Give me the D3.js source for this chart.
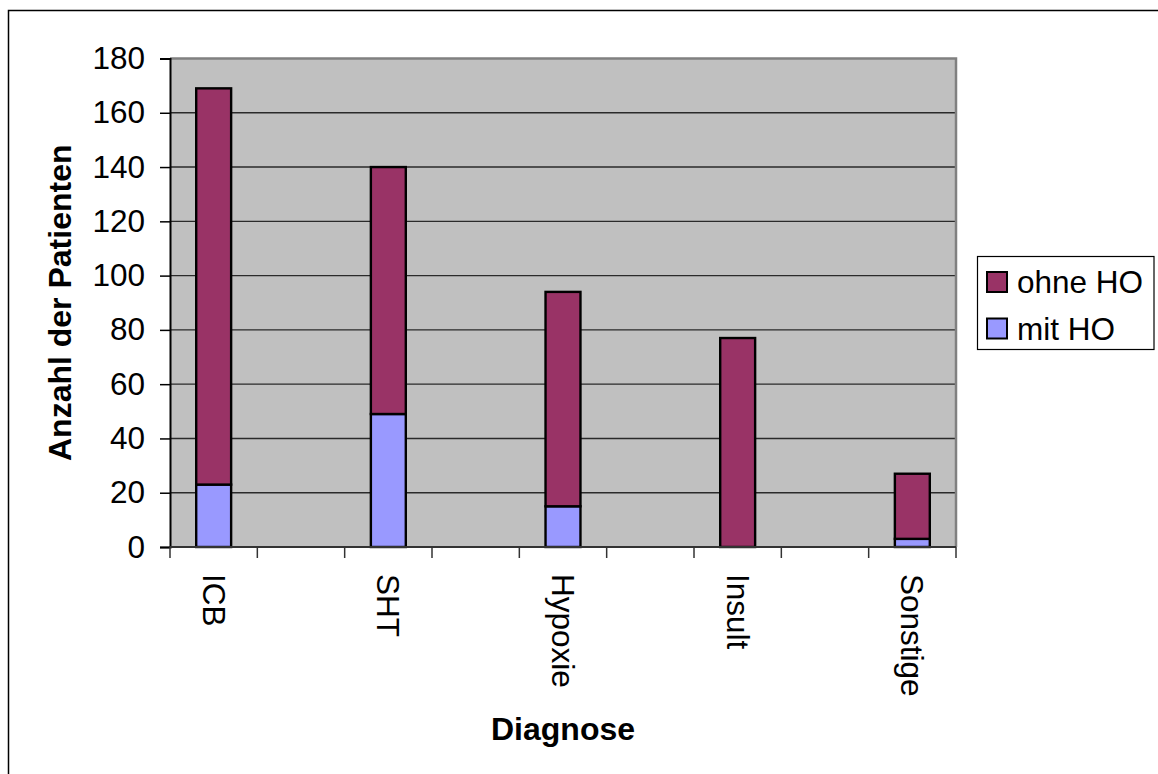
<!DOCTYPE html>
<html>
<head>
<meta charset="utf-8">
<script src="https://cdn.jsdelivr.net/npm/d3@7"></script>
<style>
  html, body { margin: 0; padding: 0; background: #fff; }
  svg { display: block; font-family: "Liberation Sans", Arial, sans-serif; }
</style>
</head>
<body>
<svg id="chart" width="1158" height="774"></svg>
<script>
// Patienten je Diagnose, aufgeteilt nach HO-Befund
const categories = ["ICB", "SHT", "Hypoxie", "Insult", "Sonstige"];
const mitHO   = [23, 49, 15, 0, 3];
const ohneHO  = [146, 91, 79, 77, 24];   // Gesamt: 169, 140, 94, 77, 27
const seriesNames = ["mit HO", "ohne HO"];
const yTicks = [0, 20, 40, 60, 80, 100, 120, 140, 160, 180];

const colors = { "mit HO": "#9999FF", "ohne HO": "#993366" };

const svg = d3.select("#chart");
const W = 1158, H = 774;
const plot = { left: 170, right: 956, top: 58.5, bottom: 547 };
const labelSize = 31.5;
const titleSize = 32;

// outer chart frame (runs off the right and bottom edge)
svg.append("rect")
  .attr("x", 8.5).attr("y", 10.5)
  .attr("width", W + 20).attr("height", H + 20)
  .attr("fill", "#fff").attr("stroke", "#000").attr("stroke-width", 1.5);

const x = d3.scaleBand()
  .domain(categories)
  .range([plot.left, plot.right])
  .paddingInner(0.8)
  .paddingOuter(0.15)
  .align(0.5);

const y = d3.scaleLinear()
  .domain([0, 180])
  .range([plot.bottom, plot.top]);

// plot area background
svg.append("rect")
  .attr("x", plot.left).attr("y", plot.top)
  .attr("width", plot.right - plot.left)
  .attr("height", plot.bottom - plot.top)
  .attr("fill", "#C0C0C0");

// horizontal gridlines
svg.append("g")
  .selectAll("line")
  .data(yTicks.filter(d => d > 0 && d < 180))
  .join("line")
  .attr("x1", plot.left).attr("x2", plot.right)
  .attr("y1", d => y(d)).attr("y2", d => y(d))
  .attr("stroke", "#2a2a2a").attr("stroke-width", 1.4);

// plot border (gray) on top and right
svg.append("path")
  .attr("d", `M${plot.left},${plot.top}H${plot.right}V${plot.bottom}`)
  .attr("fill", "none").attr("stroke", "#808080").attr("stroke-width", 2.5);

// stacked bars
const stacked = d3.stack()
  .keys(seriesNames)
  .value((d, key) => d[key])(
    categories.map((c, i) => ({ cat: c, "mit HO": mitHO[i], "ohne HO": ohneHO[i] }))
  );

svg.append("g")
  .selectAll("g")
  .data(stacked)
  .join("g")
  .attr("fill", d => colors[d.key])
  .selectAll("rect")
  .data(d => d.filter(s => s[1] > s[0]))
  .join("rect")
  .attr("x", d => x(d.data.cat))
  .attr("width", x.bandwidth())
  .attr("y", d => y(d[1]))
  .attr("height", d => y(d[0]) - y(d[1]))
  .attr("stroke", "#000")
  .attr("stroke-width", 2.4);

// y axis
const yAxis = d3.axisLeft(y)
  .tickValues(yTicks)
  .tickSize(10)
  .tickPadding(15)
  .tickFormat(d3.format("d"));

const gy = svg.append("g")
  .attr("transform", `translate(${plot.left},0)`)
  .call(yAxis);
gy.select(".domain").attr("stroke", "#000").attr("stroke-width", 2);
gy.selectAll(".tick line").attr("stroke", "#000").attr("stroke-width", 1.5);
gy.selectAll(".tick text")
  .attr("font-size", labelSize)
  .attr("font-family", "'Liberation Sans', Arial, sans-serif")
  .attr("fill", "#000");

// x axis: baseline, boundary ticks between slots, rotated category labels
const half = x.step() / 2;
const boundaries = d3.range(0, 2 * categories.length).map(i => plot.left + i * half);

svg.append("line")
  .attr("x1", plot.left).attr("x2", plot.right)
  .attr("y1", plot.bottom).attr("y2", plot.bottom)
  .attr("stroke", "#333").attr("stroke-width", 2);

svg.append("g")
  .selectAll("line")
  .data(boundaries)
  .join("line")
  .attr("x1", d => d).attr("x2", d => d)
  .attr("y1", plot.bottom).attr("y2", plot.bottom + 11)
  .attr("stroke", "#333").attr("stroke-width", 1.5);

svg.append("g")
  .selectAll("text")
  .data(categories)
  .join("text")
  .attr("transform", d => `translate(${x(d) + x.bandwidth() / 2},${plot.bottom + 27}) rotate(90)`)
  .attr("dy", "0.35em")
  .attr("text-anchor", "start")
  .attr("font-size", labelSize)
  .attr("fill", "#000")
  .text(d => d);

// axis titles
svg.append("text")
  .attr("x", (plot.left + plot.right) / 2)
  .attr("y", 740)
  .attr("text-anchor", "middle")
  .attr("font-size", titleSize)
  .attr("font-weight", "bold")
  .text("Diagnose");

svg.append("text")
  .attr("transform", `translate(71,${(plot.top + plot.bottom) / 2}) rotate(-90)`)
  .attr("text-anchor", "middle")
  .attr("font-size", titleSize)
  .attr("font-weight", "bold")
  .text("Anzahl der Patienten");

// legend
const legend = svg.append("g");
legend.append("rect")
  .attr("x", 977.5).attr("y", 256.5)
  .attr("width", 176.5).attr("height", 93)
  .attr("fill", "#fff").attr("stroke", "#000").attr("stroke-width", 1.2);

const legendItems = ["ohne HO", "mit HO"];
const li = legend.selectAll("g.item")
  .data(legendItems)
  .join("g")
  .attr("class", "item")
  .attr("transform", (d, i) => `translate(987,${272 + i * 46.5})`);

li.append("rect")
  .attr("width", 20).attr("height", 20)
  .attr("fill", d => colors[d])
  .attr("stroke", "#000").attr("stroke-width", 2);

li.append("text")
  .attr("x", 30).attr("y", 21)
  .attr("font-size", labelSize)
  .attr("fill", "#000")
  .text(d => d);
</script>
</body>
</html>
